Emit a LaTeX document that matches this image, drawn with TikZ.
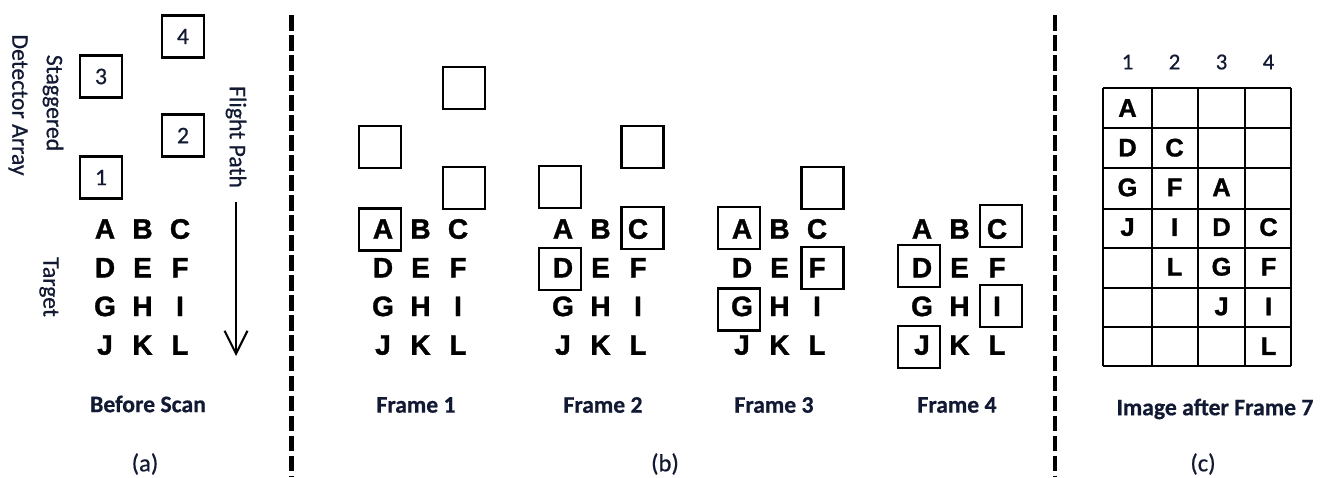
\documentclass[tikz,border=0pt]{standalone}
\usepackage{fontspec}
\setmainfont[FakeBold=0.6]{Carlito}
\newfontfamily\letterfont[FakeBold=1.2]{Liberation Sans Bold}
\usetikzlibrary{arrows.meta}
\definecolor{labelink}{HTML}{121A33}

\begin{document}
\begin{tikzpicture}[
    x=0.02cm, y=-0.02cm,
    detector/.style = {
      rectangle, draw=black, line width=1.4pt,
      minimum size=0.84cm, inner sep=0pt,
      font=\fontsize{13.5}{16}\selectfont, text=labelink
    },
    target/.style   = {font=\letterfont\fontsize{16}{18}\selectfont, inner sep=0pt},
    cellltr/.style  = {font=\letterfont\fontsize{14.5}{16}\selectfont, inner sep=0pt},
    caption/.style  = {font=\bfseries\fontsize{13.5}{16}\selectfont, text=labelink},
    panel/.style    = {font=\fontsize{14}{16}\selectfont, text=labelink},
    colnum/.style   = {font=\fontsize{13}{16}\selectfont, text=labelink},
    sidelbl/.style  = {font=\fontsize{13.5}{16}\selectfont, rotate=-90, text=labelink},
    divider/.style  = {line width=2.5pt, dash pattern=on 9pt off 2.4pt},
    flight/.style   = {-{Straight Barb[length=13pt,width=13pt]}, line width=1.2pt},
    gridline/.style = {line width=1pt}
  ]
  \useasboundingbox (0,0) rectangle (1321,477);

  % Panel (a) -- before scan
  \node[detector] (a4) at (183,36.5)  {4};
  \node[detector] (a3) at (101,76.5)  {3};
  \node[detector] (a2) at (183,135.5) {2};
  \node[detector] (a1) at (101,177.5) {1};

  \node[sidelbl] (staggered) at (53,103) {Staggered};
  \node[sidelbl] (detarray)  at (18,105) {Detector Array};
  \node[sidelbl] (targetlbl) at (49,287) {Target};
  \node[sidelbl] (flightlbl) at (236,137) {Flight Path};

  \coordinate (flighttop) at (236,202);
  \coordinate (flightend) at (236,356);
  \draw[flight] (flighttop) -- (flightend);

  % target letters: panel (a) and frames 1-4
  \foreach \fx/\fn in {105/a, 383/fa, 563/fb, 742/fc, 922/fd} {
    \foreach \ltr [count=\k from 0] in {A,...,L} {
      \pgfmathtruncatemacro\cc{mod(\k,3)}
      \pgfmathtruncatemacro\rr{div(\k,3)}
      \node[target] (\fn\ltr) at ({\fx+37.5*\cc},{229+38.7*\rr}) {\ltr};
    }
  }

  \node[caption] (before) at (148,404) {Before Scan};
  \node[panel]   (capa)   at (145,464) {(a)};

  % Dividers
  \coordinate (divatop) at (291.5,15);
  \coordinate (divabot) at (291.5,477);
  \coordinate (divbtop) at (1055,15);
  \coordinate (divbbot) at (1055,477);
  \draw[divider] (divatop) -- (divabot);
  \draw[divider] (divbtop) -- (divbbot);

  % Panel (b) -- frames
  % Frame 1
  \node[detector] (fa4) at (464,88)    {};
  \node[detector] (fa3) at (380,147)   {};
  \node[detector] (fa2) at (464,188)   {};
  \node[detector] (fa1) at (380,229.5) {};
  % Frame 2
  \node[detector] (fb4) at (642.5,147) {};
  \node[detector] (fb3) at (560,187)   {};
  \node[detector] (fb2) at (642.5,228) {};
  \node[detector] (fb1) at (560,269)   {};
  % Frame 3
  \node[detector] (fc4) at (822.5,188) {};
  \node[detector] (fc3) at (739,228)   {};
  \node[detector] (fc2) at (822.5,268) {};
  \node[detector] (fc1) at (739,309.5) {};
  % Frame 4
  \node[detector] (fd4) at (1001,226)  {};
  \node[detector] (fd3) at (919,266)   {};
  \node[detector] (fd2) at (1001,306)  {};
  \node[detector] (fd1) at (919,347)   {};

  \node[caption] (frame1) at (416,405) {Frame 1};
  \node[caption] (frame2) at (603,405) {Frame 2};
  \node[caption] (frame3) at (774,405) {Frame 3};
  \node[caption] (frame4) at (957,405) {Frame 4};
  \node[panel]   (capb)   at (665,464) {(b)};

  % Panel (c) -- image grid
  \foreach \gx in {1103,1152,1198,1245,1291}
    \draw[gridline] (\gx,88) -- (\gx,366);
  \foreach \gy in {88,128,168,209,248,288,327,366}
    \draw[gridline] (1103,\gy) -- (1291,\gy);

  \foreach \c in {1,...,4}
    \node[colnum] (col\c) at ({1127.5+47*(\c-1)},62) {\c};

  \foreach \c/\r/\ltr in {1/1/A, 1/2/D, 1/3/G, 1/4/J,
                          2/2/C, 2/3/F, 2/4/I, 2/5/L,
                          3/3/A, 3/4/D, 3/5/G, 3/6/J,
                          4/4/C, 4/5/F, 4/6/I, 4/7/L}
    \node[cellltr] (cell\c\r) at ({1127.5+47*(\c-1)},{108+39.7*(\r-1)}) {\ltr};

  \node[caption] (imgafter) at (1215,409) {Image after Frame 7};
  \node[panel]   (capc)     at (1203,464) {(c)};
\end{tikzpicture}
\end{document}
